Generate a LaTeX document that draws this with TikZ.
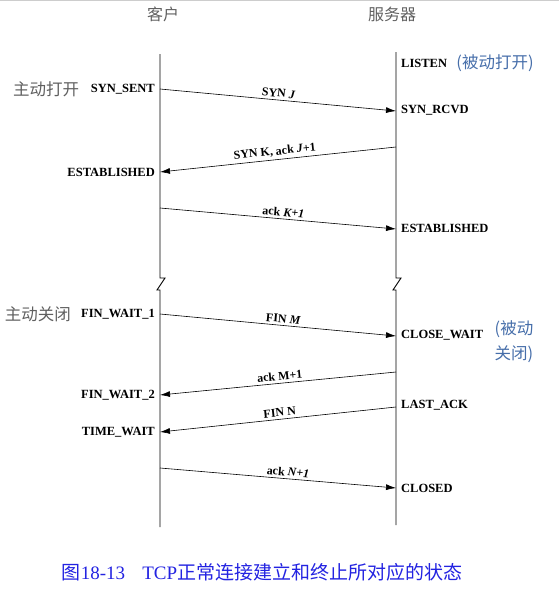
\documentclass[tikz,border=0pt]{standalone}
\usepackage{fontspec}
\setmainfont{Liberation Serif}
\newfontfamily\cjk{Noto Sans CJK SC}
\usetikzlibrary{arrows.meta}
\definecolor{capblue}{RGB}{35, 35, 225}
\definecolor{noteblue}{RGB}{70, 110, 170}
\definecolor{headgray}{RGB}{95, 95, 95}
\definecolor{rimgray}{RGB}{205, 205, 205}

\tikzset{
  state/.style={font=\bfseries\fontsize{12.5}{14}\selectfont, inner sep=0pt},
  lstate/.style={state, anchor=east},
  rstate/.style={state, anchor=west},
  seglabel/.style={font=\bfseries\fontsize{12}{14}\selectfont, sloped, above, inner sep=2.5pt},
  msg/.style={-{Latex[length=10pt,width=6pt]}, line width=0.6pt},
  life/.style={line width=0.9pt},
  head/.style={headgray, font=\cjk\fontsize{16}{18}\selectfont},
  note/.style={font=\cjk\fontsize{16.5}{25}\selectfont, align=left},
}

\begin{document}
\begin{tikzpicture}[x=1pt, y=-1pt]
            \useasboundingbox (0,0) rectangle (559,590);
            \draw[rimgray] (0,0.5) -- (559,0.5);
            % titles
            \node[head] (client) at (163,14) {客户};
            \node[head] (server) at (392,14) {服务器};
            % life lines with the break
            \coordinate (ctop) at (160,54);  \coordinate (cbot) at (160,527);
            \coordinate (stop) at (396,52);  \coordinate (sbot) at (396,525);
            \draw[life] (ctop) -- (160,278) -- (165,278) -- (157,290) -- (160,290) -- (cbot);
            \draw[life] (stop) -- (396,278) -- (401,278) -- (393,290) -- (396,290) -- (sbot);
            % end points of the segments
            \coordinate (c1) at (160, 89);   \coordinate (s1) at (396,111);
            \coordinate (s2) at (396,147);   \coordinate (c2) at (160,172);
            \coordinate (c3) at (160,208);   \coordinate (s3) at (396,229);
            \coordinate (c4) at (160,314);   \coordinate (s4) at (396,336);
            \coordinate (s5) at (396,372);   \coordinate (c5) at (160,395);
            \coordinate (s6) at (396,407);   \coordinate (c6) at (160,432);
            \coordinate (c7) at (160,468);   \coordinate (s7) at (396,488);
            % client states
            \node[lstate] (synsent)  at (155, 89) {SYN\_SENT};
            \node[lstate] (cestab)   at (155,172) {ESTABLISHED};
            \node[lstate] (finwait1) at (155,314) {FIN\_WAIT\_1};
            \node[lstate] (finwait2) at (155,395) {FIN\_WAIT\_2};
            \node[lstate] (timewait) at (155,432) {TIME\_WAIT};
            % server states
            \node[rstate] (listen)    at (401, 63) {LISTEN};
            \node[rstate] (synrcvd)   at (401,110) {SYN\_RCVD};
            \node[rstate] (sestab)    at (401,228) {ESTABLISHED};
            \node[rstate] (closewait) at (401,335) {CLOSE\_WAIT};
            \node[rstate] (lastack)   at (401,405) {LAST\_ACK};
            \node[rstate] (closed)    at (401,488) {CLOSED};
            % notes
            \node[note, headgray] (aopen)  at (46, 89) {主动打开};
            \node[note, headgray] (aclose) at (38,314) {主动关闭};
            \node[note, noteblue] (popen)  at (495, 63) {(被动打开)};
            \node[note, noteblue] (pclose) at (514,342) {(被动\\关闭)};
            % segments
            \draw[msg] (c1) -- node[seglabel, pos=0.50] {SYN \textit{J}} (s1);
            \draw[msg] (s2) -- node[seglabel, pos=0.51] {SYN K, ack \textit{J}+1} (c2);
            \draw[msg] (c3) -- node[seglabel, pos=0.52] {ack \textit{K+1}} (s3);
            \draw[msg] (c4) -- node[seglabel, pos=0.52] {FIN \textit{M}} (s4);
            \draw[msg] (s5) -- node[seglabel, pos=0.49] {ack M+1} (c5);
            \draw[msg] (s6) -- node[seglabel, pos=0.49] {FIN N} (c6);
            \draw[msg] (c7) -- node[seglabel, pos=0.54] {ack \textit{N+1}} (s7);
            % caption
            \node[capblue, font=\fontsize{19}{22}\selectfont] (caption) at (262,572)
                {{\cjk 图}18-13\hspace{0.9em}TCP{\cjk 正常连接建立和终止所对应的状态}};
\end{tikzpicture}
\end{document}
